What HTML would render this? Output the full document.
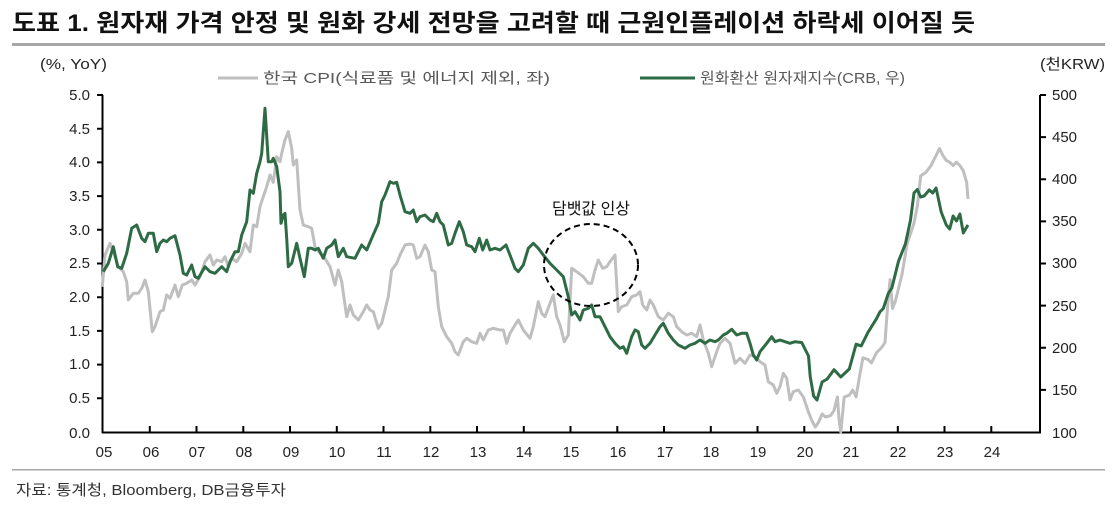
<!DOCTYPE html>
<html><head><meta charset="utf-8"><style>
body{margin:0;background:#fff;width:1117px;height:505px;overflow:hidden}
svg{display:block;font-family:"Liberation Sans","Noto Sans CJK KR",sans-serif}
</style></head><body>
<svg width="1117" height="505" viewBox="0 0 1117 505">
<text x="12" y="31" font-size="24" font-weight="bold" fill="#111" textLength="963" lengthAdjust="spacingAndGlyphs">도표 1. 원자재 가격 안정 및 원화 강세 전망을 고려할 때 근원인플레이션 하락세 이어질 듯</text>
<rect x="12" y="43" width="1093" height="3" fill="#a6a6a6"/>
<rect x="12" y="469" width="1093" height="1.5" fill="#a6a6a6"/>
<text x="16" y="495" font-size="15" fill="#333" textLength="270" lengthAdjust="spacingAndGlyphs">자료: 통계청, Bloomberg, DB금융투자</text>
<g font-size="15" fill="#222">
<text x="40" y="69" textLength="67" lengthAdjust="spacingAndGlyphs">(%, YoY)</text>
<text x="1040" y="69" textLength="65" lengthAdjust="spacingAndGlyphs">(천KRW)</text>
</g>
<line x1="218" y1="78" x2="258" y2="78" stroke="#bfbfbf" stroke-width="3"/>
<text x="263" y="83" font-size="15" fill="#595959" textLength="287" lengthAdjust="spacingAndGlyphs">한국 CPI(식료품 및 에너지 제외, 좌)</text>
<line x1="640" y1="78" x2="695" y2="78" stroke="#2e6b45" stroke-width="3"/>
<text x="700" y="83" font-size="15" fill="#595959" textLength="205" lengthAdjust="spacingAndGlyphs">원화환산 원자재지수(CRB, 우)</text>
<g stroke="#000" stroke-width="2" fill="none">
<line x1="102.5" y1="95" x2="102.5" y2="433"/>
<line x1="1040" y1="95" x2="1040" y2="433"/>
<line x1="102" y1="432.5" x2="1041" y2="432.5"/>
<path d="M97 95H103M97 128.7H103M97 162.4H103M97 196.1H103M97 229.8H103M97 263.5H103M97 297.2H103M97 330.9H103M97 364.6H103M97 398.3H103"/>
<path d="M1040 95H1046M1040 137.1H1046M1040 179.3H1046M1040 221.4H1046M1040 263.5H1046M1040 305.6H1046M1040 347.8H1046M1040 389.9H1046"/>
<path d="M149.8 426V433M196.5 426V433M243.3 426V433M290 426V433M336.8 426V433M383.5 426V433M430.3 426V433M477 426V433M523.8 426V433M570.5 426V433M617.3 426V433M664 426V433M710.8 426V433M757.5 426V433M804.3 426V433M851 426V433M897.8 426V433M944.5 426V433M991.3 426V433"/>
</g>
<g font-size="15" fill="#222" text-anchor="end">
<text x="90" y="100">5.0</text><text x="90" y="134">4.5</text><text x="90" y="167">4.0</text><text x="90" y="201">3.5</text><text x="90" y="235">3.0</text><text x="90" y="268">2.5</text><text x="90" y="302">2.0</text><text x="90" y="336">1.5</text><text x="90" y="369">1.0</text><text x="90" y="403">0.5</text><text x="90" y="438">0.0</text>
</g>
<g font-size="15" fill="#222">
<text x="1052" y="100">500</text><text x="1052" y="142">450</text><text x="1052" y="184">400</text><text x="1052" y="226">350</text><text x="1052" y="268">300</text><text x="1052" y="311">250</text><text x="1052" y="353">200</text><text x="1052" y="395">150</text><text x="1052" y="438">100</text>
</g>
<g font-size="15" fill="#222" text-anchor="middle">
<text x="104" y="457">05</text><text x="151" y="457">06</text><text x="197" y="457">07</text><text x="244" y="457">08</text><text x="291" y="457">09</text><text x="337" y="457">10</text><text x="384" y="457">11</text><text x="431" y="457">12</text><text x="478" y="457">13</text><text x="524" y="457">14</text><text x="571" y="457">15</text><text x="618" y="457">16</text><text x="665" y="457">17</text><text x="711" y="457">18</text><text x="758" y="457">19</text><text x="805" y="457">20</text><text x="851" y="457">21</text><text x="898" y="457">22</text><text x="945" y="457">23</text><text x="992" y="457">24</text>
</g>
<polyline fill="none" stroke="#bfbfbf" stroke-width="3" stroke-linejoin="round" points="102.3,286.7 105,255 110,243.3 113.3,251.7 118.3,266.7 123.3,271.7 126.7,281.7 128.3,300 133.3,293.3 138.3,293.3 141.7,288.3 145,280 148.3,291.7 152.3,331.7 155,326.7 160,311.7 163.3,310 166.7,295 170,298.3 175,285 178.3,296.7 182.3,285 186.7,283.3 191.7,280 195,285 200,276.7 205,261.7 210,255 213.3,265 216.7,260 221.7,261.7 225,256.7 228.3,266.7 231.7,258.3 236.7,261.7 241.7,253.3 245,243.3 250,251.7 253.3,225 256.7,226.7 260,206.7 263.3,196.7 266.7,186.7 270,175 273.3,182.3 276.7,156.7 280,161.7 281.7,153.3 285,140 288.3,131.7 291.7,148.3 293.3,165 296.7,160 300,210 303.3,225 308.3,226.7 311.7,228.3 315,246.7 320,253.3 325,258.3 330,266.7 335,285 338.3,270 341.7,281.7 346.7,316.7 350,305 353.3,315 358.3,320 363.3,311.7 366.7,305 370,310 373.3,311.7 378.3,328.3 381.7,323.3 385,310 388.3,296.7 391.7,270 396.7,263.3 400,255 405,245 410,244 413.3,245 416.7,258.3 420,256.7 425,245 428.3,251.7 431.7,270 435,271.7 438.3,306.7 441.7,326.7 446.7,336.7 451.7,343.3 455,351.7 458.3,355 463.3,341.7 466.7,338.3 471.7,341.7 476.7,343.3 480,333.3 483.3,340 488.3,330 493.3,328.3 500,330 503.3,330 506.7,343.3 510,333.3 515,325 518.3,320 523.3,330 530,338.3 533.3,326.7 538.3,301.7 541.7,313.3 545,316.7 550,303.3 553.3,295 556.7,316.7 560,325 564.3,341.7 568.3,335 571.7,268.3 576.7,271.7 583.3,276.7 588.3,283.3 591.7,283.3 595,270 598.3,260 602.7,268.3 606.7,266.7 610,261.7 615,255 618.3,311.7 621.7,306.7 626.7,305 631.7,296.7 636.7,295 640,291.7 642.7,305 646.7,310 650,300 653.3,305 658.3,316.7 663.3,320 668.3,313.3 673.3,316.7 676.7,326.7 681.7,331.7 686.7,335 691.7,333.3 696.7,336.7 700,325 703.3,340 708.3,353.3 711.7,366.7 716.7,351.7 720,343.3 725,338.3 730,343.3 735,363.3 740,358.3 745,363.3 750,355 755,356.7 760,361.7 765,365 768.3,381.7 773.3,385 776.7,393.3 780,386.7 783.3,373.3 786.7,378.3 790,400 793.3,391.7 798.3,390 803.4,397 808.5,412.2 811.9,420.7 815.3,427 818.7,422 822.1,414 825.5,417 830.6,415.6 834,410.5 837.4,396.9 839.1,420.7 840.8,432 844.2,397 849.3,395.2 852.7,390.1 856.1,397 859.5,376.5 862.9,357.8 868,359.5 871.4,362.9 876.5,352.7 881.6,347.6 885,342.5 887.8,303.4 890.1,279.6 892.5,308.5 895.2,301.7 902,274.5 907.1,243.9 910.5,233.7 913.9,223.5 917.3,206.5 920.7,175.9 925.9,172.4 931,165.6 936.1,155.4 939.5,148.6 942.9,155.4 946.3,160.5 949.7,162.2 953.1,165.6 956.5,162.2 959.9,165.6 963.3,170.7 966.7,182.7 968,199"/>
<polyline fill="none" stroke="#2e6b45" stroke-width="3" stroke-linejoin="round" points="103.3,271.7 108.3,263.3 113.3,246.7 117.7,266.7 121.7,268.3 126.7,253.3 131.7,228.3 136.7,225 141.7,238.3 145,241.7 148.3,233.3 153.3,233.3 156.7,251.7 160,243.3 163.3,240 166.7,241.7 170,238.3 175,235.7 180,255 183.3,273.3 186.7,275 191.7,265 195,276.7 198.3,278.3 205,266.7 210,271.7 215,273.3 221.7,266.7 226.7,271.7 230,261.7 235,251.7 238.3,251.7 241.7,235 246.7,221.7 250,190 253.3,193.3 256.7,173.3 260,161.7 261.7,153.3 265,108.3 268.3,161.7 271.7,161.7 273.3,158.3 276.7,166.7 280,191.7 281,223.3 283.3,215 285,213.3 286.7,238.3 288.3,266.7 291.7,263.3 296.7,243.3 300,258.3 304.3,276.7 308.3,248.3 311.7,248.3 315,250 318.3,248.3 323.3,258.3 326.7,248.3 331.7,245 335,240 338.3,256.7 343.3,248.3 346.7,256.7 355,258.3 361.7,245 366.7,250 371.7,238.3 378.3,223.3 381.7,201.7 385,195 390,181.7 393.3,183.3 396.7,182.3 400,195 405,211.7 410,213.3 413.3,210 416.7,221.7 420,216.7 425,215 430,220 433.3,221.7 436.7,213.3 440,221.7 443.3,225 448.3,245 451.7,243.3 455,233.3 459.3,221.7 463.3,231.7 466.7,245 471.7,246.7 475,251.7 479.3,238.3 482.7,250 486.7,240 490,250 495,248.3 500,250 506,245 510,255 515,268.3 518.3,271.7 523.3,265 528.3,248.3 533.3,243.3 538.3,248.3 543.3,255 550,263.3 556.7,270 563.3,276.7 568.3,296.7 571.7,315 575,311.7 580,320 583.3,310 588.3,308.3 591.7,305 595,316.7 600,316.7 605,326.7 610,336.7 615,343.3 620,348.3 623.3,346.7 626.7,353.3 631.7,336.7 635,330 638.3,331.7 641.7,345 645,348.3 650,343.3 655,335 660,326.7 663.3,323.3 668.3,333.3 673.3,340 678.3,345 685,348.3 690,345 695,343.3 700,340 705,343.3 710,340 715,341.7 718.3,340 723.3,335 726.7,333.3 731.7,329.3 736.7,335 741.7,333.3 746.7,333.3 750,343.3 753.3,355 756.7,360 760,351.7 766.7,343.3 771.7,336.7 775,341.7 780,340 785,341.7 790,343.3 795,341.7 801.7,342.5 808.5,356 810.2,376.5 813.6,396 817,400 822.1,382 827.2,379 834,369.7 840.8,377 849.3,369 856.1,344.2 861.2,345.9 868,332.3 876.5,318.7 879.9,311.9 883.3,308.5 888.4,293.2 891.8,288.1 898.6,260.9 905.4,243.9 910.5,220.1 914,192.9 917.3,189.5 920.7,197 924.1,196 929.3,190 932.7,193 936.1,188 941.2,212 946.3,225 949.7,229 953.1,216 956.5,221 959.9,214 963.3,233 966.7,227 968,225"/>
<ellipse cx="591" cy="265" rx="47" ry="41" fill="none" stroke="#000" stroke-width="2" stroke-dasharray="6,4"/>
<text x="591" y="214" font-size="16" fill="#111" text-anchor="middle">담뱃값 인상</text>
</svg>
</body></html>
